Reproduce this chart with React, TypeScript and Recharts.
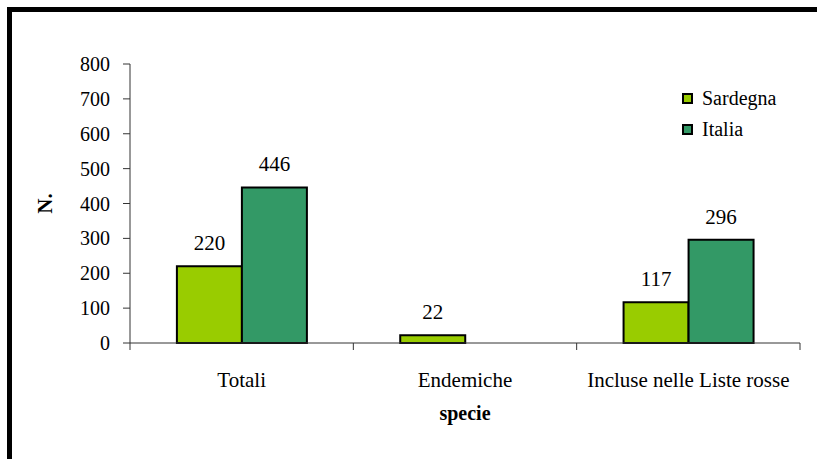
import React from "react";
import { BarChart, Bar, XAxis, YAxis, LabelList } from "recharts";

const categories = ["Totali", "Endemiche", "Incluse nelle Liste rosse"];
const sardegna = [220, 22, 117];
const italia = [446, 0, 296];
const yTicks = [0, 100, 200, 300, 400, 500, 600, 700, 800];

const data = categories.map((c, i) => ({ name: c, Sardegna: sardegna[i], Italia: italia[i] }));

const FONT = "Liberation Serif";
const PLOT_LEFT = 130;
const PLOT_RIGHT = 800;
const HALF_BAND = (PLOT_RIGHT - PLOT_LEFT) / categories.length / 2;

function XTick(props: any) {
  const { x, y, payload, index } = props;
  const axisY = y - 2;
  return (
    <g>
      {index === 0 && <line x1={x - HALF_BAND} x2={x - HALF_BAND} y1={axisY} y2={axisY + 7} stroke="#333" />}
      <line x1={x + HALF_BAND} x2={x + HALF_BAND} y1={axisY} y2={axisY + 7} stroke="#333" />
      <text x={x} y={axisY + 44} textAnchor="middle" style={{ fontFamily: FONT }} fontSize={21} fill="#000">
        {payload.value}
      </text>
    </g>
  );
}

function YLabel(props: any) {
  const { viewBox } = props;
  const cy = viewBox.y + viewBox.height / 2;
  return (
    <text
      x={45}
      y={cy}
      transform={`rotate(-90, 45, ${cy})`}
      textAnchor="middle"
      dominantBaseline="central"
      style={{ fontFamily: FONT }}
      fontSize={21}
      fontWeight="bold"
      fill="#000"
    >
      N.
    </text>
  );
}

const legendItems = [
  { name: "Sardegna", color: "#99cc00" },
  { name: "Italia", color: "#339966" },
];

function LegendBox() {
  return (
    <div style={{ position: "absolute", left: 682, top: 83, fontFamily: FONT, fontSize: 20, color: "#000" }}>
      {legendItems.map((it) => (
        <div key={it.name} style={{ display: "flex", alignItems: "center", height: 31 }}>
          <span
            style={{
              display: "inline-block",
              width: 7,
              height: 7,
              background: it.color,
              border: "2px solid #000",
              marginRight: 9,
            }}
          />
          {it.name}
        </div>
      ))}
    </div>
  );
}

const fmt = (v: any) => (v ? String(v) : "");

export default function App() {
  return (
    <div style={{ position: "absolute", left: 0, top: 0, width: 817, height: 459, overflow: "hidden", background: "#fff", fontFamily: FONT }}>
      <div
        style={{
          position: "absolute",
          left: 7,
          top: 7,
          width: 830,
          height: 480,
          border: "5px solid #000",
        }}
      />
      <div style={{ position: "absolute", left: 0, top: 0 }}>
        <BarChart
          width={817}
          height={459}
          data={data}
          margin={{ top: 64, right: 17, left: 45, bottom: 36 }}
          barCategoryGap="21%"
          barGap={0}
          style={{ fontFamily: FONT }}
        >
          <XAxis
            dataKey="name"
            height={80}
            axisLine={{ stroke: "#333" }}
            tickLine={false}
            tick={<XTick />}
            tickSize={0}
            tickMargin={2}
            interval={0}
            label={{ value: "specie", position: "insideBottom", offset: 3, style: { fontFamily: FONT }, fontSize: 20, fontWeight: "bold", fill: "#000" }}
          />
          <XAxis xAxisId="top" orientation="top" dataKey="name" height={0} tick={false} tickLine={false} axisLine={{ stroke: "#333" }} />
          <YAxis
            width={85}
            domain={[0, 800]}
            ticks={yTicks}
            interval={0}
            axisLine={{ stroke: "#333" }}
            tickLine={{ stroke: "#333" }}
            tickSize={7}
            tickMargin={13}
            tick={{ style: { fontFamily: FONT }, fontSize: 20, fill: "#000" }}
            label={<YLabel />}
          />
          <YAxis yAxisId="right" orientation="right" width={0} domain={[0, 800]} tick={false} tickLine={false} axisLine={{ stroke: "#333" }} />
          <Bar dataKey="Sardegna" fill="#99cc00" stroke="#000" strokeWidth={2} isAnimationActive={false}>
            <LabelList dataKey="Sardegna" position="top" offset={16} formatter={fmt} style={{ fontFamily: FONT }} fontSize={21} fill="#000" />
          </Bar>
          <Bar dataKey="Italia" fill="#339966" stroke="#000" strokeWidth={2} isAnimationActive={false}>
            <LabelList dataKey="Italia" position="top" offset={16} formatter={fmt} style={{ fontFamily: FONT }} fontSize={21} fill="#000" />
          </Bar>
        </BarChart>
      </div>
      <LegendBox />
    </div>
  );
}
